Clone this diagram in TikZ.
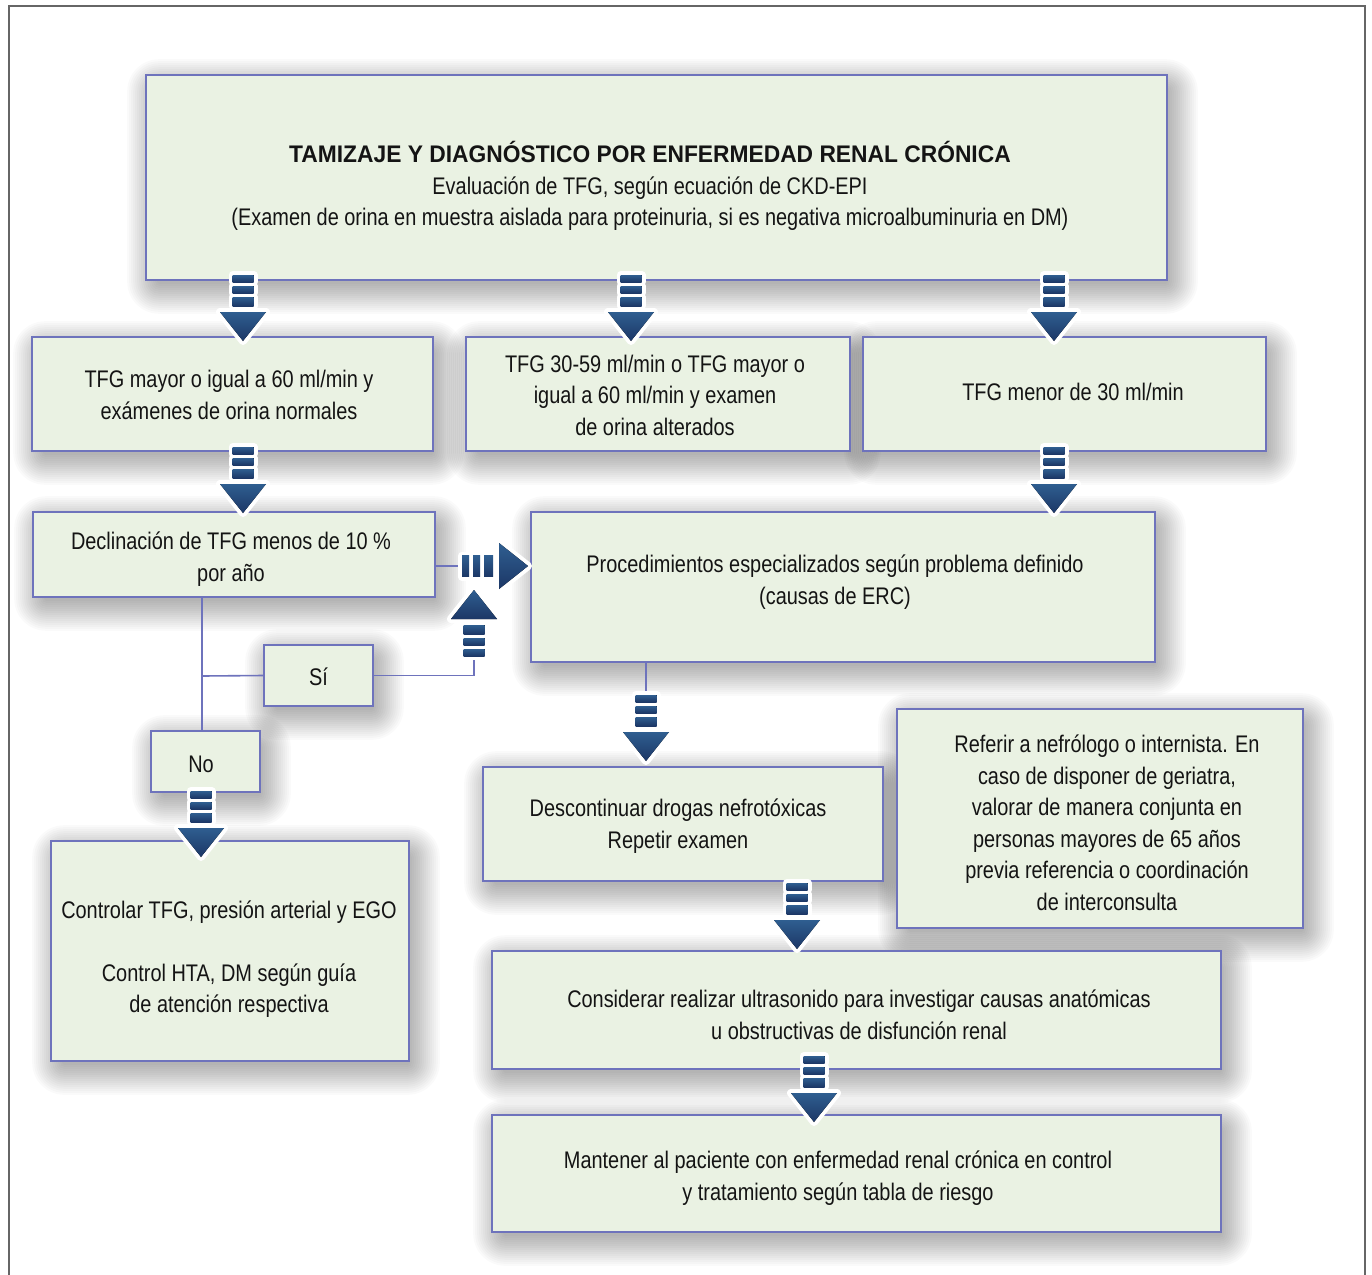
\documentclass[tikz,border=0pt]{standalone}
\usepackage{fontspec}
\setmainfont{Liberation Sans}[FakeStretch=0.83]
\newfontfamily\titlefont{Liberation Sans}[FakeStretch=0.95]

\definecolor{boxfill}{HTML}{EAF2E3}
\definecolor{boxline}{HTML}{6E73BC}
\definecolor{arrdark}{HTML}{1C3766}
\definecolor{arrlight}{HTML}{2F5E90}
\definecolor{framegray}{HTML}{666666}

\pgfdeclarelayer{bgwhite}
\pgfdeclarelayer{bgshadow}
\pgfsetlayers{bgwhite,bgshadow,main}

\tikzset{
 box/.style={draw=boxline, line width=1.6pt, fill=boxfill, inner sep=0pt},
 shadowlayer/.style={black, opacity=0.021},
 txt/.style={align=center, inner sep=0pt, text=black!92, font=\fontsize{24}{31.5}\selectfont},
 conn/.style={draw=boxline, line width=1.6pt},
 pics/fatarrow/.style={code={
   \foreach \a/\b in {0/7,11/18,22/31}{
     \draw[white, line width=8pt, line join=round] (-10.5,\a) rectangle (10.5,\b);}
   \draw[white, line width=8pt, line join=round] (-23,37) -- (23,37) -- (0,66) -- cycle;
   \foreach \a/\b in {0/7,11/18,22/31}{
     \fill[top color=arrlight, bottom color=arrdark] (-10.5,\a) rectangle (10.5,\b);}
   \fill[top color=arrlight, bottom color=arrdark] (-23,37) -- (23,37) -- (0,66) -- cycle;
 }}
}

\begin{document}
\begin{tikzpicture}[x=1pt, y=-1pt]
\useasboundingbox (0,0) rectangle (1372,1274);
\begin{pgfonlayer}{bgwhite}
\fill[white] (0,0) rectangle (1372,1274);
\end{pgfonlayer}
\draw[framegray, line width=1.6pt] (9,1280) -- (9,6) -- (1365,6) -- (1365,1280);

% boxes
\node[box, minimum width=1021pt, minimum height=205pt] (top) at (656.5,177.5) {};
\node[box, minimum width=401pt, minimum height=114pt] (A) at (232.5,394) {};
\node[box, minimum width=384pt, minimum height=114pt] (B) at (658,394) {};
\node[box, minimum width=403pt, minimum height=114pt] (C) at (1064.5,394) {};
\node[box, minimum width=402pt, minimum height=85pt] (D) at (234,554.5) {};
\node[box, minimum width=624pt, minimum height=150pt] (E) at (843,587) {};
\node[box, minimum width=109pt, minimum height=61pt] (Si) at (318.5,675.5) {};
\node[box, minimum width=109pt, minimum height=61pt] (No) at (205.5,761.5) {};
\node[box, minimum width=358pt, minimum height=220pt] (F) at (230,951) {};
\node[box, minimum width=406pt, minimum height=219pt] (H) at (1100,818.5) {};
\node[box, minimum width=400pt, minimum height=114pt] (G) at (683,824) {};
\node[box, minimum width=729pt, minimum height=118pt] (I) at (856.5,1010) {};
\node[box, minimum width=729pt, minimum height=117pt] (J) at (856.5,1173.5) {};

% soft shadows
\begin{pgfonlayer}{bgshadow}
\foreach \n in {top,A,B,C,D,E,Si,No,F,H,G,I,J}{
  \foreach \s in {-6,-4,...,24}{
    \fill[shadowlayer, rounded corners={(\s+8)*1pt}]
      ([shift={(6-\s,9-\s)}]\n.north west) rectangle ([shift={(6+\s,9+\s)}]\n.south east);
  }}
\end{pgfonlayer}

% texts
\node[txt] (topt) at (650,186)
 {{\titlefont\bfseries TAMIZAJE Y DIAGNÓSTICO POR ENFERMEDAD RENAL CRÓNICA}\\
  Evaluación de TFG, según ecuación de CKD-EPI\\
  (Examen de orina en muestra aislada para proteinuria, si es negativa microalbuminuria en DM)};
\node[txt] (At) at (229,395) {TFG mayor o igual a 60 ml/min y\\exámenes de orina normales};
\node[txt] (Bt) at (655,395) {TFG 30-59 ml/min o TFG mayor o\\igual a 60 ml/min y examen\\de orina alterados};
\node[txt] (Ct) at (1073,392) {TFG menor de 30 ml/min};
\node[txt] (Dt) at (231,559) {Declinación de TFG menos de 10 \%\\por año};
\node[txt] (Et) at (835,582) {Procedimientos especializados según problema definido\\(causas de ERC)};
\node[txt] (Sit) at (318.5,677) {Sí};
\node[txt] (Not) at (201,764) {No};
\node[txt] (Ft) at (229,959) {Controlar TFG, presión arterial y EGO\\[31.5pt]Control HTA, DM según guía\\de atención respectiva};
\node[txt] (Ht) at (1107,823) {Referir a nefrólogo o internista. En\\caso de disponer de geriatra,\\valorar de manera conjunta en\\personas mayores de 65 años\\previa referencia o coordinación\\de interconsulta};
\node[txt] (Gt) at (678,826) {Descontinuar drogas nefrotóxicas\\Repetir examen};
\node[txt] (It) at (859,1015) {Considerar realizar ultrasonido para investigar causas anatómicas\\u obstructivas de disfunción renal};
\node[txt] (Jt) at (838,1178) {Mantener al paciente con enfermedad renal crónica en control\\y tratamiento según tabla de riesgo};

% connectors
\coordinate (rbase) at (462,566);
\coordinate (ubase) at (474,656);
\coordinate (dbase) at (646,695);
\draw[conn] (202,597) -- (202,731);
\draw[conn] (202,676) -- (Si.west);
\draw[conn] (Si.east) -| (ubase);
\draw[conn] (D.east |- rbase) -- (rbase);
\draw[conn] (dbase |- E.south) -- (dbase);

% block arrows
\pic at (243,275) {fatarrow};
\pic at (631,275) {fatarrow};
\pic at (1054,275) {fatarrow};
\pic at (243,447) {fatarrow};
\pic at (1054,447) {fatarrow};
\pic[rotate=90] at (rbase) {fatarrow};
\pic[rotate=180] at (ubase) {fatarrow};
\pic at (dbase) {fatarrow};
\pic at (201,791) {fatarrow};
\pic at (797,883) {fatarrow};
\pic at (814,1056) {fatarrow};
\end{tikzpicture}
\end{document}
